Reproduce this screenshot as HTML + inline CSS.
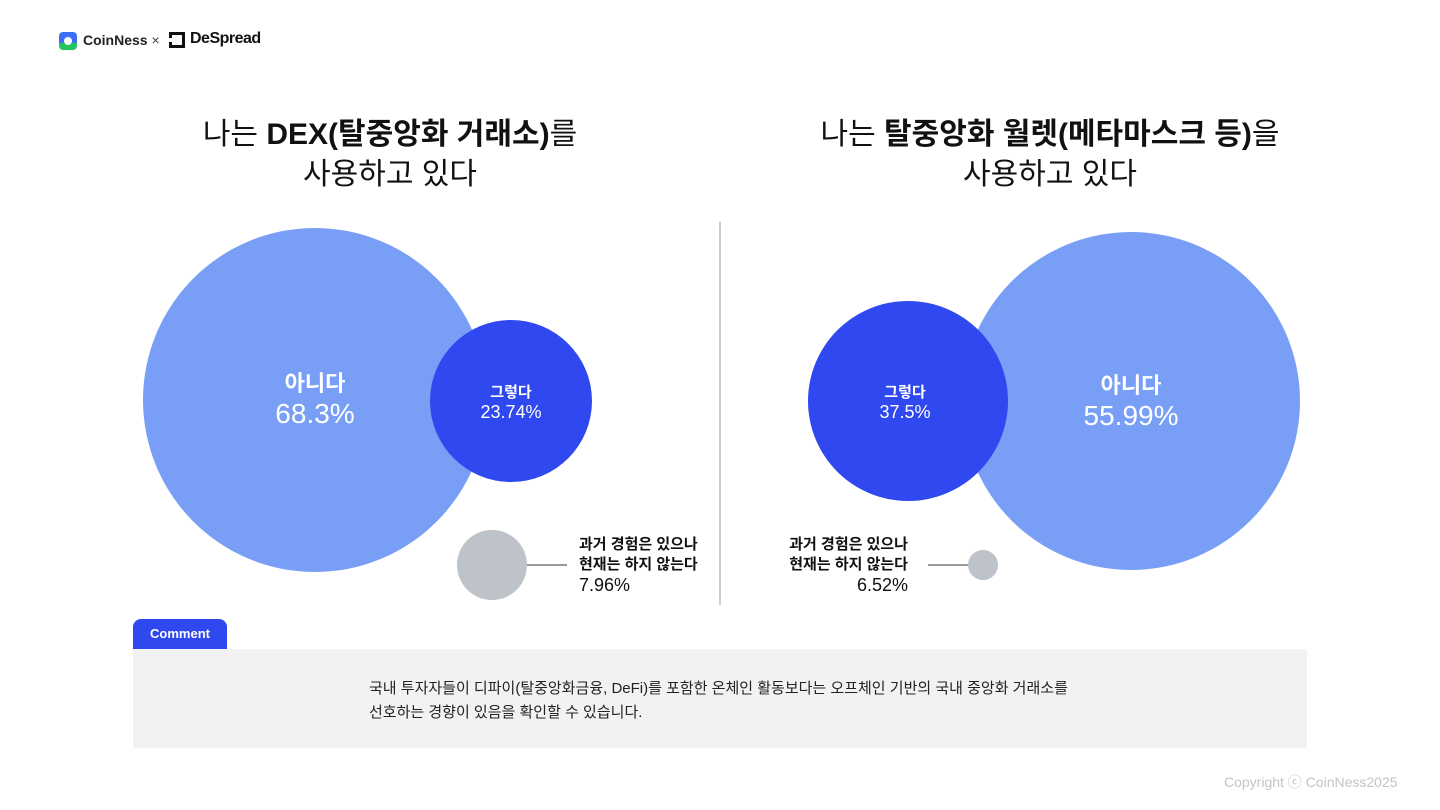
<!DOCTYPE html>
<html><head><meta charset="utf-8"><style>
body{margin:0;width:1440px;height:810px;background:#fff;position:relative;overflow:hidden;font-family:"Liberation Sans","Noto Sans CJK KR",sans-serif;color:#111}
.a{position:absolute}
.t{font-size:30px;text-align:center;line-height:40px;color:#111}
.lbl{font-size:15px;font-weight:bold;line-height:20px}
</style></head><body>
<div class="a" style="left:59px;top:32px;width:18px;height:18px;border-radius:4px;background:linear-gradient(#3d6ef5 60%,#22c55e 60%)"></div>
<div class="a" style="left:64px;top:37px;width:8px;height:8px;border-radius:50%;background:#fff"></div>
<div class="a" style="left:83px;top:32px;font-size:14px;font-weight:bold;color:#222">CoinNess <span style="font-weight:normal;color:#444">×</span></div>
<div class="a" style="left:169px;top:32px;width:16px;height:16px;border:3px solid #111;box-sizing:border-box;border-left-style:dashed"></div>
<div class="a" style="left:190px;top:30px;font-size:16px;font-weight:bold;letter-spacing:-0.5px">DeSpread</div>

<div class="a t" style="left:190px;top:115px;width:400px">나는 <b>DEX(탈중앙화 거래소)</b>를<br>사용하고 있다</div>
<div class="a t" style="left:790px;top:115px;width:520px">나는 <b>탈중앙화 월렛(메타마스크 등)</b>을<br>사용하고 있다</div>

<svg class="a" style="left:0;top:0" width="1440" height="810">
<circle cx="315" cy="400" r="172" fill="#789ff5"/>
<circle cx="511" cy="401" r="81" fill="#2f48ef"/>
<circle cx="492" cy="565" r="35" fill="#bec2c9"/>
<line x1="527" y1="565" x2="567" y2="565" stroke="#999" stroke-width="2"/>
<line x1="720" y1="222" x2="720" y2="605" stroke="#ccc" stroke-width="2"/>
<circle cx="1131" cy="401" r="169" fill="#789ff5"/>
<circle cx="908" cy="401" r="100" fill="#2f48ef"/>
<circle cx="983" cy="565" r="15" fill="#bec2c9"/>
<line x1="928" y1="565" x2="968" y2="565" stroke="#999" stroke-width="2"/>
</svg>

<div class="a" style="left:215px;top:366px;width:200px;text-align:center;color:#fff;font-size:22px;font-weight:bold">아니다</div>
<div class="a" style="left:215px;top:398px;width:200px;text-align:center;color:#fff;font-size:28px">68.3%</div>
<div class="a" style="left:431px;top:381px;width:160px;text-align:center;color:#fff;font-size:15px;font-weight:bold">그렇다</div>
<div class="a" style="left:431px;top:402px;width:160px;text-align:center;color:#fff;font-size:18px">23.74%</div>
<div class="a lbl" style="left:579px;top:535px">과거 경험은 있으나<br>현재는 하지 않는다<br><span style="font-weight:normal;font-size:18px">7.96%</span></div>

<div class="a" style="left:1031px;top:368px;width:200px;text-align:center;color:#fff;font-size:22px;font-weight:bold">아니다</div>
<div class="a" style="left:1031px;top:400px;width:200px;text-align:center;color:#fff;font-size:28px">55.99%</div>
<div class="a" style="left:825px;top:381px;width:160px;text-align:center;color:#fff;font-size:15px;font-weight:bold">그렇다</div>
<div class="a" style="left:825px;top:402px;width:160px;text-align:center;color:#fff;font-size:18px">37.5%</div>
<div class="a lbl" style="left:760px;top:535px;width:148px;text-align:right">과거 경험은 있으나<br>현재는 하지 않는다<br><span style="font-weight:normal;font-size:18px">6.52%</span></div>

<div class="a" style="left:133px;top:619px;width:94px;height:30px;background:#2f48ef;border-radius:8px 8px 0 0;color:#fff;font-size:13px;font-weight:bold;text-align:center;line-height:30px">Comment</div>
<div class="a" style="left:133px;top:649px;width:1174px;height:99px;background:#f2f2f4"></div>
<div class="a" style="left:369px;top:677px;font-size:15px;line-height:24px;color:#222;white-space:nowrap">국내 투자자들이 디파이(탈중앙화금융, DeFi)를 포함한 온체인 활동보다는 오프체인 기반의 국내 중앙화 거래소를<br>선호하는 경향이 있음을 확인할 수 있습니다.</div>
<div class="a" style="left:1224px;top:772px;font-size:14px;color:#c4c4c8;white-space:nowrap">Copyright ⓒ CoinNess2025</div>
</body></html>
